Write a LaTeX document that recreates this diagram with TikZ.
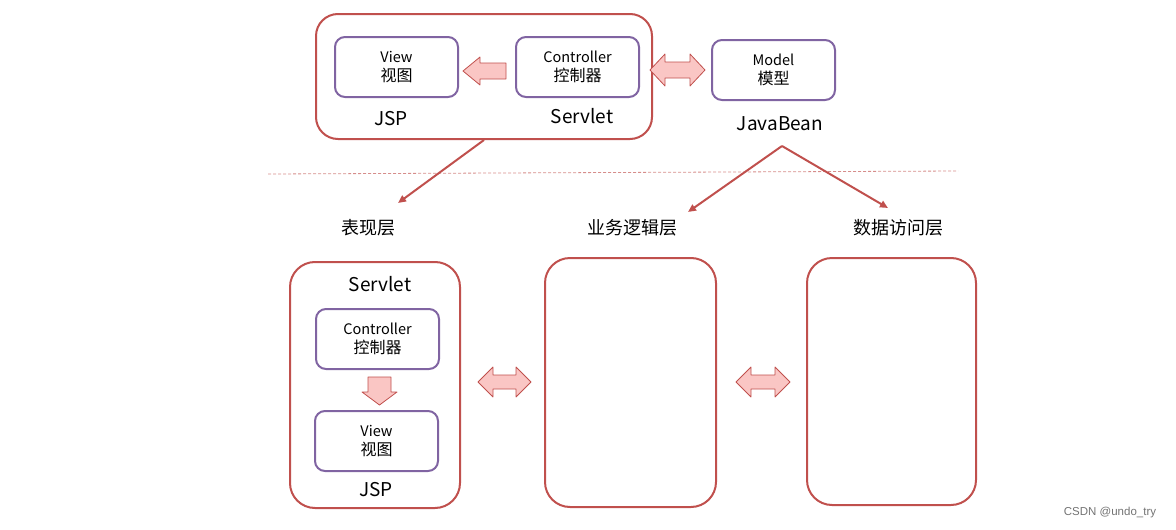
\documentclass[tikz,border=0pt]{standalone}
\usepackage{fontspec}
\setmainfont{Noto Sans CJK SC}
\newfontfamily\wmfont{Liberation Sans}
\usetikzlibrary{arrows.meta}
\definecolor{boxred}{RGB}{192,80,77}
\definecolor{boxpurple}{RGB}{128,100,162}
\definecolor{arrowfill}{RGB}{250,198,196}
\newcommand{\cjkline}[1]{{\fontsize{16}{19}\selectfont #1}}
\tikzset{
  outerbox/.style={draw=boxred, line width=2pt, rounded corners=22pt},
  innerbox/.style={draw=boxpurple, line width=2pt, rounded corners=10pt,
    minimum width=123pt, minimum height=60pt, align=center,
    font=\fontsize{14.5}{19}\selectfont},
  biglabel/.style={font=\fontsize{19}{22}\selectfont},
  layerlabel/.style={font=\fontsize{18}{20}\selectfont},
  blockarrow/.style={draw=boxred, fill=arrowfill, line width=0.8pt, line join=round},
  linkarrow/.style={draw=boxred, line width=2pt, -{Triangle[length=8pt,width=7pt]}}
}
\begin{document}
\begin{tikzpicture}[x=1pt,y=-1pt]
  \useasboundingbox (0,0) rectangle (1176,530);
  % top: MVC
  \node[outerbox, minimum width=336pt, minimum height=125pt] (mvc) at (484,76.5) {};
  \node[innerbox] (view) at (396.5,67) {View\\\cjkline{视图}};
  \node[innerbox] (ctrl) at (577.5,67) {Controller\\\cjkline{控制器}};
  \node[innerbox] (model) at (773.5,70) {Model\\\cjkline{模型}};
  \node[biglabel] (jsp) at (391,119) {JSP};
  \node[biglabel] (servlet) at (582,116) {Servlet};
  \node[biglabel] (bean) at (780,124) {JavaBean};
  \draw[blockarrow] (463,71) -- (480,57) -- (480,63) -- (506,63) -- (506,79)
    -- (480,79) -- (480,85) -- cycle;
  \draw[blockarrow] (650,70) -- (665,54) -- (665,62) -- (690,62) -- (690,54)
    -- (705,70) -- (690,86) -- (690,78) -- (665,78) -- (665,86) -- cycle;
  % dividing line
  \draw[boxred!65, line width=0.8pt, dash pattern=on 3pt off 2pt] (268,174) -- (958,171);
  % layers
  \node[layerlabel] (pres) at (368,228) {表现层};
  \node[layerlabel] (logic) at (632,228) {业务逻辑层};
  \node[layerlabel] (data) at (898,228) {数据访问层};
  \coordinate (presend) at (398,203);
  \coordinate (fork) at (782,146);
  \coordinate (logicend) at (688,212);
  \coordinate (dataend) at (888,208);
  \draw[linkarrow] (mvc.south) -- (presend);
  \draw[linkarrow] (fork) -- (logicend);
  \draw[linkarrow] (fork) -- (dataend);
  % bottom boxes
  \node[outerbox, rounded corners=25pt, minimum width=170pt, minimum height=246pt] (presbox) at (375,385) {};
  \node[outerbox, rounded corners=25pt, minimum width=171pt, minimum height=249pt] (logicbox) at (630.5,382.5) {};
  \node[outerbox, rounded corners=25pt, minimum width=169pt, minimum height=247pt] (databox) at (891.5,381.5) {};
  \node[biglabel] (servlet2) at (380,284) {Servlet};
  \node[innerbox] (ctrl2) at (377.5,339) {Controller\\\cjkline{控制器}};
  \node[innerbox] (view2) at (376.5,441) {View\\\cjkline{视图}};
  \node[biglabel] (jsp2) at (376,490) {JSP};
  \draw[blockarrow] (379.5,405) -- (362,392) -- (368,392) -- (368,377) -- (391,377)
    -- (391,392) -- (397,392) -- cycle;
  \draw[blockarrow] (478,382) -- (493,367) -- (493,375) -- (516,375) -- (516,367)
    -- (531,382) -- (516,397) -- (516,389) -- (493,389) -- (493,397) -- cycle;
  \draw[blockarrow] (736,382) -- (751,367) -- (751,375) -- (775,375) -- (775,367)
    -- (790,382) -- (775,397) -- (775,389) -- (751,389) -- (751,397) -- cycle;
  \node[text=black!55, font=\wmfont\fontsize{11.5}{13}\selectfont] (mark) at (1110,513) {CSDN @undo\_try};
\end{tikzpicture}
\end{document}
